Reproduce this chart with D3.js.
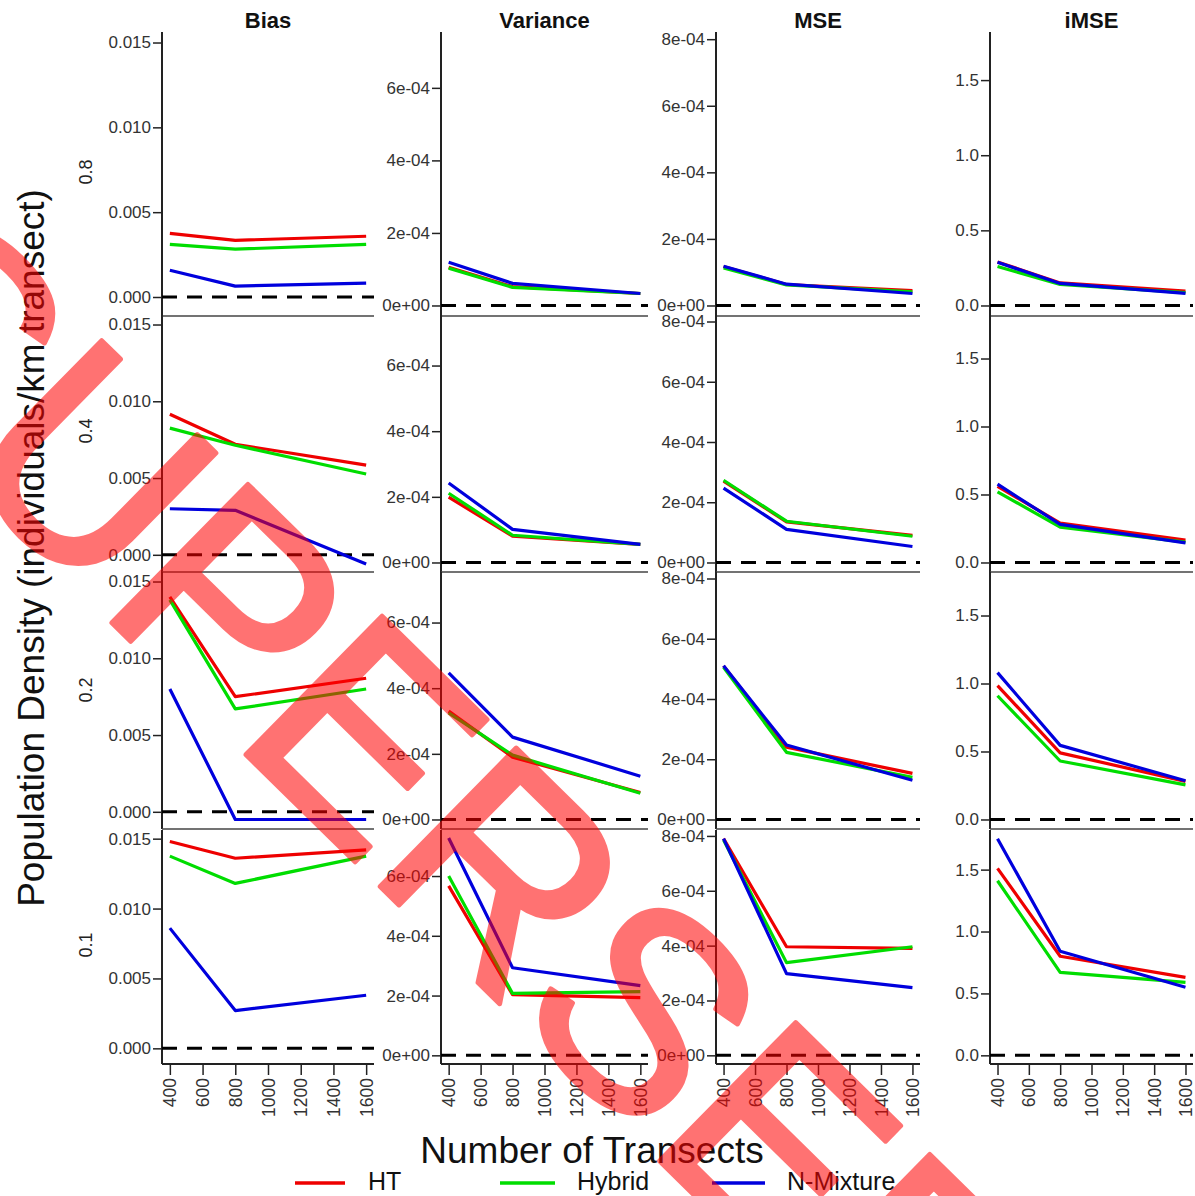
<!DOCTYPE html>
<html>
<head>
<meta charset="utf-8">
<script src="https://cdn.jsdelivr.net/npm/d3@7"></script>
<style>
  html, body { margin: 0; padding: 0; background: #fff; }
  svg { display: block; }
  text { font-family: "Liberation Sans", Arial, Helvetica, sans-serif; }
</style>
</head>
<body>
<svg id="chart" width="1195" height="1196"></svg>
<script>
// ---------------- DATA ----------------
const transects = [400, 800, 1600];
const methods = ["HT", "Hybrid", "N-Mixture"];
const methodColors = ["#ee0000", "#00dd00", "#0000dd"];
const metrics = ["Bias", "Variance", "MSE", "iMSE"];
const detectionRows = ["0.8", "0.4", "0.2", "0.1"];
const xTickValues = [400, 600, 800, 1000, 1200, 1400, 1600];

const biasTicks = [0, 0.005, 0.010, 0.015];
const varianceTicks = [0, 2e-4, 4e-4, 6e-4];
const mseTicks = [0, 2e-4, 4e-4, 6e-4, 8e-4];
const imseTicks = [0, 0.5, 1.0, 1.5];
const biasTickLabels = ["0.000", "0.005", "0.010", "0.015"];
const varianceTickLabels = ["0e+00", "2e-04", "4e-04", "6e-04"];
const mseTickLabels = ["0e+00", "2e-04", "4e-04", "6e-04", "8e-04"];
const imseTickLabels = ["0.0", "0.5", "1.0", "1.5"];

// axis limits (ylim) per metric
const biasLim = [-0.0005, 0.015];
const varianceLim = [0, 7.25e-4];
const mseLim = [0, 7.9e-4];
const imseLim = [0, 1.75];

// series values: rows = detection 0.8, 0.4, 0.2, 0.1 ; columns = 400, 800, 1600 transects
const biasHT     = [[0.00375, 0.00334, 0.00358], [0.00916, 0.0072, 0.00584], [0.0140, 0.0075, 0.0087], [0.0148, 0.0136, 0.0142]];
const biasHybrid = [[0.0031, 0.00282, 0.0031], [0.00825, 0.00714, 0.00526], [0.0138, 0.0067, 0.0080], [0.01375, 0.0118, 0.01375]];
const biasNMix   = [[0.00158, 0.00064, 0.00082], [0.0030, 0.0029, -0.0006], [0.0080, -0.0005, -0.0005], [0.0086, 0.0027, 0.0038]];

const varianceHT     = [[1.05e-4, 0.52e-4, 0.33e-4], [1.99e-4, 0.80e-4, 0.55e-4], [3.30e-4, 1.90e-4, 0.82e-4], [5.67e-4, 2.03e-4, 1.93e-4]];
const varianceHybrid = [[1.03e-4, 0.50e-4, 0.33e-4], [2.11e-4, 0.83e-4, 0.55e-4], [3.25e-4, 1.96e-4, 0.80e-4], [6.00e-4, 2.07e-4, 2.13e-4]];
const varianceNMix   = [[1.19e-4, 0.61e-4, 0.33e-4], [2.42e-4, 1.01e-4, 0.55e-4], [4.47e-4, 2.51e-4, 1.32e-4], [7.27e-4, 2.93e-4, 2.33e-4]];

const mseHT     = [[1.17e-4, 0.63e-4, 0.45e-4], [2.70e-4, 1.35e-4, 0.90e-4], [5.10e-4, 2.40e-4, 1.53e-4], [7.90e-4, 3.96e-4, 3.90e-4]];
const mseHybrid = [[1.13e-4, 0.62e-4, 0.41e-4], [2.73e-4, 1.37e-4, 0.87e-4], [5.05e-4, 2.23e-4, 1.40e-4], [7.85e-4, 3.38e-4, 3.96e-4]];
const mseNMix   = [[1.18e-4, 0.64e-4, 0.36e-4], [2.47e-4, 1.10e-4, 0.53e-4], [5.10e-4, 2.47e-4, 1.30e-4], [7.90e-4, 2.98e-4, 2.47e-4]];

const imseHT     = [[0.29, 0.15, 0.095], [0.56, 0.29, 0.165], [0.985, 0.49, 0.28], [1.51, 0.80, 0.63]];
const imseHybrid = [[0.26, 0.14, 0.085], [0.52, 0.26, 0.15], [0.91, 0.43, 0.255], [1.41, 0.67, 0.59]];
const imseNMix   = [[0.287, 0.147, 0.08], [0.576, 0.28, 0.144], [1.08, 0.545, 0.285], [1.75, 0.84, 0.55]];

// ---------------- LAYOUT ----------------
const svg = d3.select("#chart");
svg.append("rect").attr("width", 1195).attr("height", 1196).attr("fill", "#fff");

const colX = [[162, 374], [441, 648], [716, 920], [990, 1193]];
const rowY = [[32, 316], [315, 572], [572, 829], [830, 1064]];
const rowLabelY = [172, 431, 690, 945];

const panels = [
  { lim: biasLim, ticks: biasTicks, labels: biasTickLabels, series: [biasHT, biasHybrid, biasNMix] },
  { lim: varianceLim, ticks: varianceTicks, labels: varianceTickLabels, series: [varianceHT, varianceHybrid, varianceNMix] },
  { lim: mseLim, ticks: mseTicks, labels: mseTickLabels, series: [mseHT, mseHybrid, mseNMix] },
  { lim: imseLim, ticks: imseTicks, labels: imseTickLabels, series: [imseHT, imseHybrid, imseNMix] }
];

function extend(lim) { const d = (lim[1] - lim[0]) * 0.04; return [lim[0] - d, lim[1] + d]; }
const xDom = extend([400, 1600]);

const axisColor = "#222";
const tickFont = 17;

for (let c = 0; c < 4; c++) {
  const p = panels[c];
  const x = d3.scaleLinear().domain(xDom).range(colX[c]);
  for (let r = 0; r < 4; r++) {
    const y = d3.scaleLinear().domain(extend(p.lim)).range([rowY[r][1], rowY[r][0]]);
    const g = svg.append("g");

    // y axis
    const yAxis = d3.axisLeft(y).tickValues(p.ticks).tickSize(9).tickPadding(2)
      .tickFormat((d, i) => p.labels[i]);
    const ya = g.append("g").attr("transform", `translate(${colX[c][0]},0)`).call(yAxis);
    ya.select(".domain").remove();
    ya.selectAll(".tick line").attr("stroke", axisColor).attr("stroke-width", 1.5);
    ya.selectAll(".tick text").attr("font-size", tickFont).attr("fill", "#333")
      .attr("font-family", "'Liberation Sans', Arial, sans-serif");
    g.append("line").attr("x1", colX[c][0]).attr("x2", colX[c][0])
      .attr("y1", rowY[r][0]).attr("y2", rowY[r][1])
      .attr("stroke", axisColor).attr("stroke-width", 2);

    // x axis line (bottom)
    if (r < 3) {
      g.append("line").attr("x1", colX[c][0]).attr("x2", colX[c][1])
        .attr("y1", rowY[r][1]).attr("y2", rowY[r][1])
        .attr("stroke", "#444").attr("stroke-width", 1.5);
    } else {
      const xAxis = d3.axisBottom(x).tickValues(xTickValues).tickSize(11).tickPadding(3)
        .tickFormat(d3.format("d"));
      const xa = g.append("g").attr("transform", `translate(0,${rowY[r][1]})`).call(xAxis);
      xa.select(".domain").attr("d", `M${colX[c][0]},0H${colX[c][1]}`)
        .attr("stroke", axisColor).attr("stroke-width", 2);
      xa.selectAll(".tick line").attr("stroke", axisColor).attr("stroke-width", 1.5);
      xa.selectAll(".tick text").attr("font-size", 17.5).attr("fill", "#333")
        .attr("font-family", "'Liberation Sans', Arial, sans-serif")
        .attr("transform", "rotate(-90)")
        .attr("text-anchor", "end")
        .attr("dy", "0.35em").attr("x", -14).attr("y", 0);
    }

    // zero reference dashed line
    g.append("line").attr("x1", colX[c][0]).attr("x2", colX[c][1])
      .attr("y1", y(0)).attr("y2", y(0))
      .attr("stroke", "#000").attr("stroke-width", 3).attr("stroke-dasharray", "15,10");

    // series lines
    const line = d3.line().x((d, i) => x(transects[i])).y(d => y(d));
    p.series.forEach((s, k) => {
      g.append("path").attr("d", line(s[r])).attr("fill", "none")
        .attr("stroke", methodColors[k]).attr("stroke-width", 3.2)
        .attr("stroke-linejoin", "round");
    });
  }
  // column title
  svg.append("text").attr("x", (colX[c][0] + colX[c][1]) / 2).attr("y", 28)
    .attr("text-anchor", "middle").attr("font-weight", "bold").attr("font-size", 22)
    .attr("fill", "#111").text(metrics[c]);
}

// row labels
detectionRows.forEach((lab, r) => {
  svg.append("text").attr("transform", `translate(92,${rowLabelY[r]}) rotate(-90)`)
    .attr("text-anchor", "middle").attr("font-size", 18).attr("fill", "#222").text(lab);
});

// axis titles
svg.append("text").attr("transform", "translate(44,548) rotate(-90)")
  .attr("text-anchor", "middle").attr("font-size", 37).attr("fill", "#111")
  .text("Population Density (individuals/km transect)");
svg.append("text").attr("x", 592).attr("y", 1163).attr("text-anchor", "middle")
  .attr("font-size", 37).attr("fill", "#111").text("Number of Transects");

// legend
const legendX = [[295, 345, 368], [500, 555, 577], [712, 765, 787]];
methods.forEach((m, k) => {
  svg.append("line").attr("x1", legendX[k][0]).attr("x2", legendX[k][1])
    .attr("y1", 1183).attr("y2", 1183).attr("stroke", methodColors[k]).attr("stroke-width", 3.5);
  svg.append("text").attr("x", legendX[k][2]).attr("y", 1190).attr("font-size", 25)
    .attr("fill", "#111").text(m);
});

// watermark stamp
svg.append("g").attr("opacity", 0.55)
  .append("text").attr("transform", "translate(-184,332) rotate(44.5)")
  .attr("font-size", 282).attr("fill", "#ff0000")
  .attr("stroke", "#ff0000").attr("stroke-width", 5).attr("stroke-linejoin", "round")
  .text("SUPERSEDED");
</script>
</body>
</html>
